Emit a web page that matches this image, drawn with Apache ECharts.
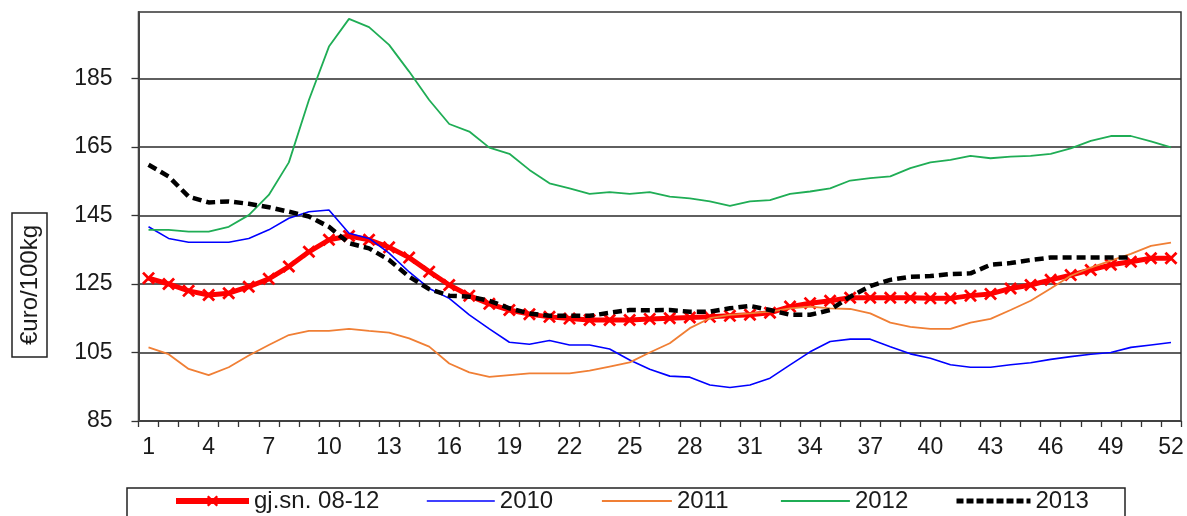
<!DOCTYPE html>
<html>
<head>
<meta charset="utf-8">
<script src="https://cdn.jsdelivr.net/npm/echarts@6/dist/echarts.min.js"></script>
<style>html,body{margin:0;padding:0;background:#fff}#c{width:1187px;height:516px}</style>
</head>
<body>
<div id="c"></div>
<script>
var weeks = [];
for (var i = 1; i <= 52; i++) weeks.push(String(i));
var yTicks = [85, 105, 125, 145, 165, 185];
var seriesNames = ['gj.sn. 08-12', '2010', '2011', '2012', '2013'];
var avg0812 = [126.7,125.0,123.0,121.8,122.3,124.2,126.5,130.1,134.4,137.9,
  139.0,137.9,135.7,132.7,128.6,124.7,121.6,119.2,117.4,116.2,
  115.4,114.9,114.5,114.5,114.5,114.8,115.0,115.2,115.4,115.7,
  116.0,116.6,118.4,119.4,120.1,121.0,121.0,121.0,121.0,120.8,
  120.8,121.6,122.1,123.7,124.7,126.2,127.6,129.1,130.6,131.5,
  132.5,132.5];
var y2010 = [141.7,138.3,137.2,137.2,137.2,138.3,140.8,144.2,146.1,146.6,
  139.8,138.3,134.0,128.5,123.7,120.8,116.0,111.9,108.0,107.4,
  108.5,107.2,107.2,106.0,102.8,100.1,98.1,97.8,95.5,94.8,
  95.5,97.5,101.4,105.2,108.2,108.9,108.9,106.7,104.6,103.3,
  101.4,100.7,100.7,101.4,102.0,103.0,103.8,104.5,105.0,106.5,
  107.2,107.9];
var y2011 = [106.5,104.5,100.2,98.4,100.7,104.1,107.2,110.1,111.3,111.3,
  111.9,111.3,110.8,109.1,106.7,101.8,99.2,97.9,98.4,98.9,
  98.9,98.9,99.7,100.9,102.1,105.0,107.7,112.1,115.0,116.0,
  116.4,116.9,117.9,118.4,117.9,117.7,116.4,113.7,112.5,111.9,
  111.9,113.7,114.8,117.4,120.1,123.7,127.4,129.8,131.8,133.8,
  136.1,137.1];
var y2012 = [140.8,140.8,140.3,140.3,141.7,145.1,151.0,160.5,178.7,194.3,
  202.4,200.0,194.8,187.0,178.7,171.7,169.5,164.8,163.0,158.3,
  154.4,152.9,151.3,151.8,151.3,151.8,150.5,150.0,149.1,147.8,
  149.1,149.5,151.3,152.0,152.9,155.2,155.9,156.4,158.8,160.5,
  161.2,162.4,161.7,162.2,162.4,163.0,164.6,166.8,168.2,168.2,
  166.6,164.9];
var y2013 = [159.8,156.4,150.5,148.8,149.1,148.4,147.4,146.1,144.7,141.7,
  136.9,135.4,132.0,127.1,123.5,121.6,121.3,120.1,117.9,116.4,
  115.7,115.7,115.7,116.6,117.4,117.3,117.4,116.9,116.9,117.9,
  118.6,117.4,116.0,116.0,117.4,121.3,124.4,126.2,127.1,127.3,
  127.9,128.1,130.6,131.1,132.0,132.7,132.7,132.7,132.7,132.7,
  null,null];

var FONT = '"Liberation Sans", Arial, sans-serif';
var TXT = '#1a1a1a';
var xPath = 'path://M3,0 L10,7 L17,0 L20,3 L13,10 L20,17 L17,20 L10,13 L3,20 L0,17 L7,10 L0,3 Z';

function legendItem(name, left, w, hideSymbol, lineStyle) {
  var it = {
    left: left, top: 489, itemWidth: w, itemHeight: 14, itemGap: 0,
    textStyle: {fontFamily: FONT, fontSize: 24, color: TXT},
    data: [{name: name}], selectedMode: false, padding: 0,
    lineStyle: lineStyle
  };
  if (hideSymbol) it.itemStyle = {opacity: 0};
  return it;
}

var chart = echarts.init(document.getElementById('c'), null, {renderer: 'canvas'});
chart.setOption({
  animation: false,
  backgroundColor: '#fff',
  grid: {left: 138.5, right: 6, top: 12, bottom: 95, show: true, borderColor: '#333', borderWidth: 1.5, backgroundColor: 'transparent'},
  xAxis: {
    type: 'category', data: weeks, boundaryGap: true,
    axisLine: {lineStyle: {color: '#444', width: 1.5}},
    axisTick: {show: true, length: 6, interval: 0, lineStyle: {color: '#333', width: 1.3}},
    axisLabel: {interval: 2, margin: 15, fontFamily: FONT, fontSize: 23, color: TXT}
  },
  yAxis: {
    type: 'value', min: 85, max: 204.4, interval: 20,
    axisLine: {show: true, lineStyle: {color: '#444', width: 2}},
    axisTick: {show: true, length: 7, customValues: yTicks, lineStyle: {color: '#333', width: 1.3}},
    axisLabel: {margin: 26, fontFamily: FONT, fontSize: 23, color: TXT, customValues: yTicks},
    splitLine: {show: true, lineStyle: {color: '#2a2a2a', width: 1.5}}
  },
  legend: [
    legendItem(seriesNames[0], 173, 73, false, {width: 6}),
    legendItem(seriesNames[1], 426, 68, true, {width: 1.6}),
    legendItem(seriesNames[2], 601, 70, true, {width: 1.8}),
    legendItem(seriesNames[3], 780, 69, true, {width: 1.8}),
    legendItem(seriesNames[4], 954, 74, true, {width: 5, type: [7, 3]})
  ],
  graphic: [
    {type: 'rect', shape: {x: 127, y: 488, width: 998, height: 40}, style: {fill: 'none', stroke: '#222', lineWidth: 1.5}, silent: true},
    {type: 'rect', shape: {x: 12, y: 213, width: 35, height: 144}, style: {fill: 'none', stroke: '#222', lineWidth: 1.5}, silent: true},
    {type: 'text', x: 30, y: 285, rotation: Math.PI / 2,
      style: {text: '€uro/100kg', fontFamily: FONT, fontSize: 24, fill: TXT, align: 'center', verticalAlign: 'middle'}, silent: true}
  ],
  series: [
    {name: seriesNames[0], type: 'line', data: avg0812, symbol: xPath, symbolSize: 13, showSymbol: true,
      lineStyle: {color: '#ff0000', width: 5}, itemStyle: {color: '#ff0000'}, z: 2},
    {name: seriesNames[1], type: 'line', data: y2010, symbol: 'none',
      lineStyle: {color: '#0000ff', width: 1.6}, itemStyle: {color: '#0000ff'}, z: 3},
    {name: seriesNames[2], type: 'line', data: y2011, symbol: 'none',
      lineStyle: {color: '#f07f35', width: 1.8}, itemStyle: {color: '#f07f35'}, z: 3},
    {name: seriesNames[3], type: 'line', data: y2012, symbol: 'none',
      lineStyle: {color: '#1fad55', width: 1.8}, itemStyle: {color: '#1fad55'}, z: 3},
    {name: seriesNames[4], type: 'line', data: y2013, symbol: 'none', connectNulls: false,
      lineStyle: {color: '#000', width: 4.5, type: [9, 5]}, itemStyle: {color: '#000'}, z: 4}
  ]
});
</script>
</body>
</html>
